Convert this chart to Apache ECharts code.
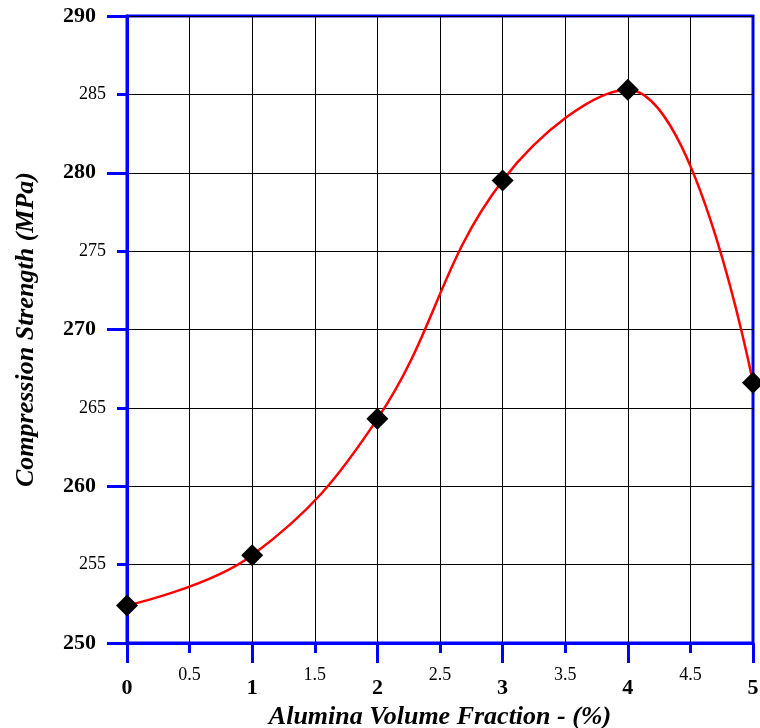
<!DOCTYPE html>
<html>
<head>
<meta charset="utf-8">
<script src="https://cdn.jsdelivr.net/npm/echarts@6/dist/echarts.min.js"></script>
<style>
  html, body { margin: 0; padding: 0; background: #fff; overflow: hidden; }
  #chart { width: 760px; height: 728px; }
</style>
</head>
<body>
<div id="chart"></div>
<script>
// Alumina volume fraction (%) and measured compression strength (MPa)
const fractions = [0, 1, 2, 3, 4, 5];
const strength = [252.4, 255.6, 264.3, 279.5, 285.3, 266.6];

const FONT = '"Liberation Serif", "Times New Roman", serif';
const BLUE = '#0000ff';

const chart = echarts.init(document.getElementById('chart'), null, { width: 760, height: 728 });

const majorLabel = { fontFamily: FONT, fontWeight: 'bold', fontSize: 22, color: '#000' };
const minorLabel = { fontFamily: FONT, fontWeight: 'normal', fontSize: 18, color: '#000' };
const titleStyle = { fontFamily: FONT, fontWeight: 'bold', fontStyle: 'italic', fontSize: 26, color: '#000' };

chart.setOption({
  animation: false,
  grid: {
    left: 127, right: 7, top: 16, bottom: 85,
    outerBoundsMode: 'none', containLabel: false,
    show: true, borderColor: BLUE, borderWidth: 3, backgroundColor: 'transparent'
  },
  xAxis: [
    {
      // main x axis: integer ticks, grid lines, bold labels
      type: 'value', min: 0, max: 5, interval: 1,
      name: 'Alumina Volume Fraction - (%)',
      nameLocation: 'middle', nameGap: 49,
      nameTextStyle: titleStyle,
      axisLine: { show: true, onZero: false, lineStyle: { color: BLUE, width: 3 } },
      axisTick: { show: true, inside: false, length: 20, lineStyle: { color: BLUE, width: 3 } },
      minorTick: { show: true, splitNumber: 2, length: 10, lineStyle: { color: BLUE, width: 3 } },
      splitLine: { show: true, lineStyle: { color: '#000', width: 1 } },
      minorSplitLine: { show: true, lineStyle: { color: '#000', width: 1 } },
      axisLabel: { ...majorLabel, margin: 34 }
    },
    {
      // half-step labels
      type: 'value', min: 0, max: 5, interval: 0.5, position: 'bottom',
      axisLine: { show: false }, axisTick: { show: false }, splitLine: { show: false },
      axisLabel: {
        ...minorLabel, margin: 23,
        formatter: v => (Math.abs(v % 1 - 0.5) < 1e-6 ? String(v) : '')
      }
    }
  ],
  yAxis: [
    {
      type: 'value', min: 250, max: 290, interval: 10,
      name: 'Compression Strength (MPa)',
      nameLocation: 'middle', nameGap: 88,
      nameTextStyle: titleStyle,
      axisLine: { show: true, onZero: false, lineStyle: { color: BLUE, width: 3 } },
      axisTick: { show: true, inside: false, length: 20, lineStyle: { color: BLUE, width: 3 } },
      minorTick: { show: true, splitNumber: 2, length: 10, lineStyle: { color: BLUE, width: 3 } },
      splitLine: { show: true, lineStyle: { color: '#000', width: 1 } },
      minorSplitLine: { show: true, lineStyle: { color: '#000', width: 1 } },
      axisLabel: { ...majorLabel, margin: 31 }
    },
    {
      type: 'value', min: 250, max: 290, interval: 5, position: 'left',
      axisLine: { show: false }, axisTick: { show: false }, splitLine: { show: false },
      axisLabel: {
        ...minorLabel, margin: 21,
        formatter: v => (v % 10 === 5 ? String(v) : '')
      }
    }
  ],
  series: [{
    type: 'line',
    xAxisIndex: 0, yAxisIndex: 0,
    data: fractions.map((f, i) => [f, strength[i]]),
    smooth: 0.4,
    clip: false,
    lineStyle: { color: '#ff0000', width: 2.5 },
    symbol: 'diamond', symbolSize: 22,
    itemStyle: { color: '#000', borderWidth: 0 },
    z: 5
  }]
});
</script>
</body>
</html>
